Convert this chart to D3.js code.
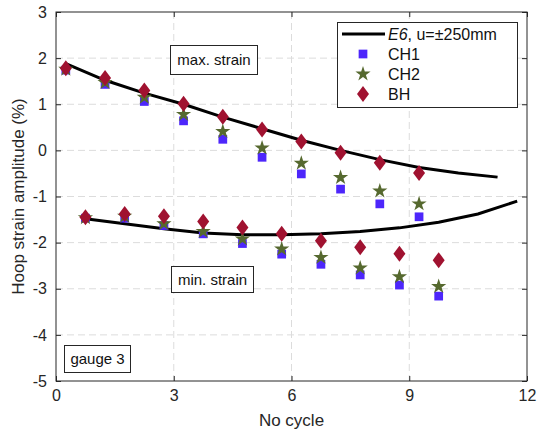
<!DOCTYPE html>
<html>
<head>
<meta charset="utf-8">
<script src="https://cdn.jsdelivr.net/npm/d3@7"></script>
<style>
  body { margin: 0; background: #fff; }
  svg { display: block; font-family: "Liberation Sans", Arial, Helvetica, sans-serif; }
</style>
</head>
<body>
<svg id="chart" width="538" height="435"></svg>
<script>
// -------- DATA --------
const maxX = [0.25, 1.25, 2.25, 3.25, 4.25, 5.25, 6.25, 7.25, 8.25, 9.25];
const minX = [0.75, 1.75, 2.75, 3.75, 4.75, 5.75, 6.75, 7.75, 8.75, 9.75];

const ch1Max = [1.74, 1.43, 1.06, 0.64, 0.24, -0.15, -0.51, -0.84, -1.16, -1.44];
const ch2Max = [1.76, 1.47, 1.15, 0.78, 0.41, 0.05, -0.28, -0.59, -0.88, -1.16];
const bhMax  = [1.78, 1.57, 1.30, 1.01, 0.73, 0.45, 0.19, -0.05, -0.27, -0.49];

const ch1Min = [-1.47, -1.47, -1.63, -1.81, -2.02, -2.25, -2.47, -2.70, -2.92, -3.16];
const ch2Min = [-1.46, -1.43, -1.59, -1.76, -1.92, -2.14, -2.32, -2.55, -2.74, -2.95];
const bhMin  = [-1.45, -1.38, -1.43, -1.54, -1.67, -1.81, -1.96, -2.10, -2.24, -2.38];

const e6MaxX = [0.25, 1.25, 2.25, 3.25, 4.25, 5.25, 6.25, 7.25, 8.25, 9.25, 10.25, 11.25];
const e6MaxY = [1.88, 1.52, 1.24, 1.00, 0.72, 0.47, 0.22, 0.00, -0.20, -0.37, -0.49, -0.58];
const e6MinX = [0.75, 1.75, 2.75, 3.75, 4.75, 5.75, 6.75, 7.75, 8.75, 9.75, 10.75, 11.75];
const e6MinY = [-1.48, -1.59, -1.70, -1.79, -1.83, -1.83, -1.81, -1.76, -1.68, -1.56, -1.38, -1.10];

const xTicks = [0, 3, 6, 9, 12];
const yTicks = [-5, -4, -3, -2, -1, 0, 1, 2, 3];

// -------- LAYOUT --------
const svg = d3.select("#chart");
const pL = 56, pR = 527, pT = 12, pB = 381;

const x = d3.scaleLinear().domain([0, 12]).range([pL, pR]);
const y = d3.scaleLinear().domain([-5, 3]).range([pB, pT]);

const colCH1 = "#4d26fb";
const colCH2 = "#56692f";
const colBH = "#a01230";

// grid
const grid = svg.append("g").attr("stroke", "#dcdcdc").attr("stroke-width", 1)
  .attr("stroke-dasharray", "7,4");
xTicks.slice(1, -1).forEach(t => {
  grid.append("line").attr("x1", x(t)).attr("x2", x(t)).attr("y1", pT).attr("y2", pB);
});
yTicks.slice(1, -1).forEach(t => {
  grid.append("line").attr("x1", pL).attr("x2", pR).attr("y1", y(t)).attr("y2", y(t));
});

// axes with inward ticks on all four sides
const tk = 5;
svg.append("g").attr("transform", `translate(0,${pB})`)
  .call(d3.axisBottom(x).tickValues(xTicks).tickSizeInner(-tk).tickSizeOuter(0).tickPadding(9))
  .call(g => g.select(".domain").remove());
svg.append("g").attr("transform", `translate(0,${pT})`)
  .call(d3.axisTop(x).tickValues(xTicks).tickSizeInner(-tk).tickSizeOuter(0).tickFormat(""))
  .call(g => g.select(".domain").remove());
svg.append("g").attr("transform", `translate(${pL},0)`)
  .call(d3.axisLeft(y).tickValues(yTicks).tickSizeInner(-tk).tickSizeOuter(0).tickPadding(9)
    .tickFormat(d => String(d)))
  .call(g => g.select(".domain").remove());
svg.append("g").attr("transform", `translate(${pR},0)`)
  .call(d3.axisRight(y).tickValues(yTicks).tickSizeInner(-tk).tickSizeOuter(0).tickFormat(""))
  .call(g => g.select(".domain").remove());

svg.selectAll(".tick line").attr("stroke", "#262626");
svg.selectAll(".tick text").attr("fill", "#262626").attr("font-size", 16)
  .attr("font-family", "Liberation Sans, Arial, sans-serif");

svg.append("rect").attr("x", pL).attr("y", pT)
  .attr("width", pR - pL).attr("height", pB - pT)
  .attr("fill", "none").attr("stroke", "#262626").attr("stroke-width", 1);

// axis labels
svg.append("text").attr("x", (pL + pR) / 2).attr("y", 426)
  .attr("text-anchor", "middle").attr("font-size", 17).attr("fill", "#262626")
  .text("No cycle");
svg.append("text")
  .attr("transform", `translate(24,${(pT + pB) / 2}) rotate(-90)`)
  .attr("text-anchor", "middle").attr("font-size", 17).attr("fill", "#262626")
  .text("Hoop strain amplitude (%)");

// E6 lines
const line = d3.line().x(d => x(d[0])).y(d => y(d[1]));
[[e6MaxX, e6MaxY], [e6MinX, e6MinY]].forEach(([xs, ys]) => {
  svg.append("path")
    .datum(xs.map((v, i) => [v, ys[i]]))
    .attr("d", line)
    .attr("fill", "none").attr("stroke", "#000").attr("stroke-width", 3);
});

// markers
const sq = d3.symbol().type(d3.symbolSquare).size(76);
const star = d3.symbol().type(d3.symbolStar).size(72);
function diamondPath(w, h) {
  return `M0,${-h / 2}L${w / 2},0L0,${h / 2}L${-w / 2},0Z`;
}

function drawSeries(xs, ys, kind) {
  const g = svg.append("g");
  g.selectAll("path")
    .data(xs.map((v, i) => [v, ys[i]]))
    .enter()
    .append("path")
    .attr("transform", d => `translate(${x(d[0])},${y(d[1])})`)
    .attr("d", kind === "sq" ? sq() : kind === "star" ? star() : diamondPath(12, 16))
    .attr("fill", kind === "sq" ? colCH1 : kind === "star" ? colCH2 : colBH);
}
drawSeries(maxX, ch1Max, "sq");
drawSeries(minX, ch1Min, "sq");
drawSeries(maxX, ch2Max, "star");
drawSeries(minX, ch2Min, "star");
drawSeries(maxX, bhMax, "dia");
drawSeries(minX, bhMin, "dia");

// annotation boxes
function labelBox(bx, by, bw, bh, txt) {
  svg.append("rect").attr("x", bx).attr("y", by).attr("width", bw).attr("height", bh)
    .attr("fill", "#fff").attr("stroke", "#262626").attr("stroke-width", 1);
  svg.append("text").attr("x", bx + bw / 2).attr("y", by + bh / 2 + 5)
    .attr("text-anchor", "middle").attr("font-size", 15).attr("fill", "#111")
    .text(txt);
}
labelBox(170.5, 45.5, 87, 29, "max. strain");
labelBox(171.5, 266.5, 82, 26, "min. strain");
labelBox(64.5, 345.5, 66, 27, "gauge 3");

// legend
const lg = svg.append("g");
lg.append("rect").attr("x", 337.5).attr("y", 22.5).attr("width", 180).attr("height", 85)
  .attr("fill", "#fff").attr("stroke", "#262626").attr("stroke-width", 1);
const rows = [34, 54, 74, 94];
lg.append("line").attr("x1", 342).attr("x2", 385).attr("y1", rows[0]).attr("y2", rows[0])
  .attr("stroke", "#000").attr("stroke-width", 3);
const t0 = lg.append("text").attr("x", 388).attr("y", rows[0] + 6).attr("font-size", 16).attr("fill", "#111");
t0.append("tspan").attr("font-style", "italic").text("E6");
t0.append("tspan").text(", u=\u00b1250mm");
lg.append("path").attr("transform", `translate(363,${rows[1]})`).attr("d", sq()).attr("fill", colCH1);
lg.append("path").attr("transform", `translate(363,${rows[2]})`).attr("d", star()).attr("fill", colCH2);
lg.append("path").attr("transform", `translate(363,${rows[3]})`).attr("d", diamondPath(12, 16)).attr("fill", colBH);
["CH1", "CH2", "BH"].forEach((s, i) => {
  lg.append("text").attr("x", 388).attr("y", rows[i + 1] + 6).attr("font-size", 16).attr("fill", "#111").text(s);
});
</script>
</body>
</html>
